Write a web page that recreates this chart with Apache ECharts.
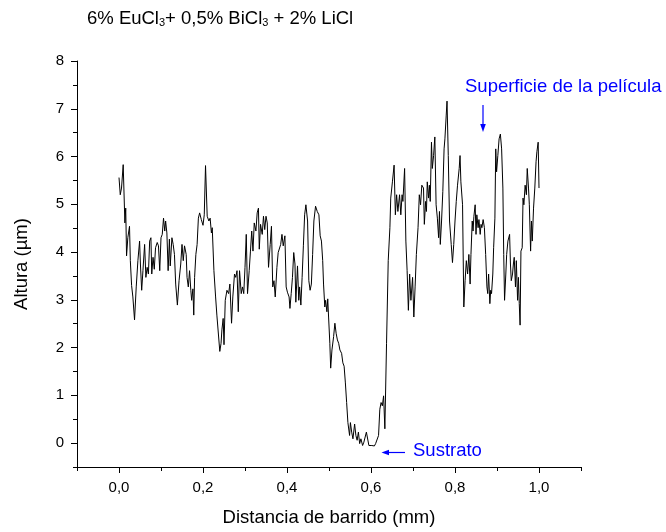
<!DOCTYPE html>
<html>
<head>
<meta charset="utf-8">
<script src="https://cdn.jsdelivr.net/npm/echarts@6/dist/echarts.min.js"></script>
<style>html,body{margin:0;padding:0;background:#fff}#chart{width:666px;height:532px}</style>
</head>
<body>
<div id="chart"></div>
<script>
// Scan distance (mm)
var distanceMm = [
0.000,0.003,0.006,0.010,0.014,0.016,0.018,0.021,0.025,0.027,
0.030,0.033,0.037,0.041,0.045,0.049,0.051,0.054,0.057,0.061,
0.064,0.067,0.070,0.073,0.076,0.078,0.081,0.084,0.087,0.091,
0.094,0.097,0.100,0.103,0.106,0.109,0.111,0.114,0.117,0.120,
0.122,0.126,0.129,0.132,0.135,0.139,0.143,0.147,0.150,0.153,
0.156,0.160,0.162,0.165,0.168,0.171,0.173,0.176,0.178,0.180,
0.183,0.186,0.189,0.192,0.196,0.200,0.203,0.206,0.210,0.214,
0.217,0.220,0.222,0.226,0.230,0.233,0.237,0.240,0.243,0.245,
0.248,0.250,0.253,0.257,0.261,0.264,0.268,0.271,0.275,0.278,
0.281,0.284,0.287,0.291,0.294,0.297,0.300,0.303,0.306,0.310,
0.313,0.316,0.319,0.322,0.326,0.329,0.332,0.334,0.337,0.341,
0.344,0.347,0.350,0.353,0.356,0.360,0.363,0.366,0.369,0.372,
0.376,0.379,0.382,0.385,0.388,0.391,0.395,0.398,0.401,0.405,
0.407,0.410,0.413,0.416,0.419,0.421,0.425,0.428,0.430,0.433,
0.436,0.439,0.442,0.445,0.449,0.452,0.455,0.458,0.461,0.464,
0.468,0.472,0.476,0.479,0.482,0.485,0.487,0.490,0.492,0.495,
0.497,0.499,0.502,0.504,0.507,0.511,0.514,0.517,0.520,0.523,
0.526,0.530,0.533,0.536,0.539,0.542,0.545,0.549,0.551,0.554,
0.557,0.561,0.564,0.567,0.570,0.573,0.576,0.580,0.583,0.586,
0.589,0.592,0.595,0.599,0.602,0.605,0.608,0.611,0.614,0.618,
0.621,0.624,0.627,0.630,0.633,0.637,0.641,0.645,0.647,0.651,
0.655,0.658,0.661,0.664,0.668,0.671,0.674,0.676,0.680,0.683,
0.686,0.689,0.692,0.695,0.699,0.702,0.705,0.708,0.712,0.715,
0.718,0.721,0.725,0.727,0.730,0.732,0.734,0.737,0.739,0.741,
0.744,0.746,0.749,0.752,0.755,0.758,0.761,0.763,0.765,0.768,
0.771,0.774,0.776,0.779,0.781,0.784,0.787,0.791,0.794,0.797,
0.800,0.803,0.806,0.810,0.812,0.814,0.818,0.821,0.824,0.827,
0.830,0.833,0.836,0.838,0.841,0.843,0.845,0.848,0.850,0.852,
0.855,0.857,0.860,0.862,0.864,0.867,0.870,0.873,0.876,0.878,
0.880,0.883,0.885,0.887,0.890,0.892,0.895,0.897,0.899,0.902,
0.905,0.908,0.911,0.914,0.916,0.918,0.921,0.923,0.926,0.930,
0.932,0.934,0.937,0.939,0.941,0.944,0.946,0.949,0.951,0.953,
0.955,0.957,0.960,0.962,0.964,0.967,0.970,0.972,0.975,0.977,
0.980,0.982,0.984,0.987,0.990,0.993,0.995,0.998,1.000
];
// Height (µm)
var heightUm = [
5.56,5.20,5.34,5.83,4.61,4.92,3.92,4.30,4.54,3.82,
3.30,3.06,2.58,3.27,3.82,4.23,3.75,3.20,3.61,4.16,
3.47,3.68,3.54,4.23,4.30,3.54,3.89,3.64,4.09,4.20,
4.13,3.61,4.30,4.37,4.71,4.44,4.65,4.40,3.61,4.27,
3.71,4.30,4.16,3.95,3.33,2.89,3.40,3.75,4.16,3.82,
4.13,3.95,3.47,3.27,3.61,3.20,2.99,3.23,2.68,3.47,
3.95,4.16,4.71,4.82,4.68,4.56,4.78,5.81,4.75,4.65,
4.71,4.40,4.51,3.61,3.06,2.68,2.71,1.92,2.09,2.37,
2.61,2.06,2.99,3.20,3.13,3.33,2.51,3.06,3.54,3.47,
3.61,2.75,3.61,3.13,3.27,3.13,3.68,4.37,3.13,3.61,
4.02,4.44,4.02,4.61,4.44,4.82,4.92,4.06,4.58,4.37,
4.75,4.47,4.75,4.61,3.68,4.16,4.54,3.27,3.40,3.06,
3.68,3.99,3.95,4.16,4.37,4.13,4.34,3.27,3.16,3.06,
2.82,3.13,3.47,3.99,3.75,2.95,3.71,2.99,3.27,2.89,
3.47,4.13,4.78,4.99,4.65,3.40,3.20,3.33,3.95,4.65,
4.96,4.85,4.78,4.34,4.23,3.82,3.33,2.85,2.99,2.75,
3.02,2.64,2.09,1.57,1.95,2.23,2.51,2.30,2.16,2.09,
1.95,1.88,1.68,1.61,1.26,0.85,0.43,0.16,0.43,0.23,
0.09,0.40,0.16,0.06,0.23,-0.01,0.09,-0.05,0.02,-0.01,
0.23,0.26,-0.05,-0.01,-0.05,-0.03,-0.06,-0.01,0.02,0.16,
0.71,0.85,0.78,0.99,0.30,2.09,3.82,4.51,5.13,5.47,
5.82,4.78,5.20,4.85,5.20,4.78,5.20,5.06,5.75,4.23,
3.61,2.78,3.54,2.99,3.47,2.64,3.27,3.95,4.51,5.20,
4.99,5.40,5.34,4.58,5.06,4.85,5.47,5.13,5.40,5.06,
6.30,5.75,6.02,6.41,4.99,4.71,4.30,4.85,4.16,4.65,
5.27,6.16,6.37,6.85,7.16,6.02,4.65,4.16,3.78,4.16,
4.65,5.06,5.40,5.75,6.02,5.47,4.99,2.85,3.40,3.82,
3.54,3.95,3.33,3.95,4.65,4.44,4.75,4.99,4.37,4.78,
4.51,4.68,4.37,4.58,4.51,4.68,4.51,3.95,3.27,3.13,
3.54,2.92,3.20,3.13,3.54,4.09,4.71,6.16,5.68,6.02,
6.37,6.47,6.16,5.34,3.95,2.99,3.54,3.95,4.23,4.37,
3.75,3.40,3.54,3.75,3.89,3.27,3.82,2.99,3.47,2.92,
2.47,4.02,4.09,5.13,4.99,5.40,5.20,5.75,5.34,4.99,
4.02,4.65,4.23,4.92,5.34,5.89,6.10,6.30,5.34
];
// Tick labels / tick positions
var xMajorTicks = [0, 0.2, 0.4, 0.6, 0.8, 1.0];
var xMinorTicks = [-0.1, 0.1, 0.3, 0.5, 0.7, 0.9, 1.1];
var yMajorTicks = [0, 1, 2, 3, 4, 5, 6, 7, 8];
var yMinorTicks = [-0.5, 0.5, 1.5, 2.5, 3.5, 4.5, 5.5, 6.5, 7.5];

var titleText = '{n|6% EuCl}{s|3}{n|+ 0,5% BiCl}{s|3}{n| + 2% LiCl}';
var xName = 'Distancia de barrido (mm)';
var yName = 'Altura (\u00b5m)';
var noteSurface = 'Superficie de la película';
var noteSubstrate = 'Sustrato';

var FONT = '"Liberation Sans", Arial, sans-serif';
var BLUE = '#0000ff';

var chart = echarts.init(document.getElementById('chart'), null, {renderer: 'canvas'});
var pts = distanceMm.map(function (d, i) { return [d, heightUm[i]]; });

function axisCommon(extra) {
  var base = {
    type: 'value',
    axisLine: {show: true, onZero: false, lineStyle: {color: '#000', width: 1}},
    splitLine: {show: false}
  };
  for (var k in extra) base[k] = extra[k];
  return base;
}

chart.setOption({
  animation: false,
  backgroundColor: '#fff',
  title: {
    text: titleText,
    left: 87, top: 9, padding: 0,
    textStyle: {
      fontFamily: FONT, fontWeight: 'normal', color: '#000',
      rich: {
        n: {fontFamily: FONT, fontSize: 18.5, lineHeight: 19, verticalAlign: 'top', color: '#000'},
        s: {fontFamily: FONT, fontSize: 11, lineHeight: 11, padding: [18, 0, 0, 0], verticalAlign: 'bottom', color: '#000'}
      }
    }
  },
  grid: {left: 77, right: 85, top: 61, bottom: 60, containLabel: false},
  xAxis: [
    axisCommon({
      min: -0.1, max: 1.1, position: 'bottom',
      name: xName, nameLocation: 'middle', nameGap: 41,
      nameTextStyle: {fontFamily: FONT, fontSize: 18.5, color: '#000'},
      axisTick: {show: true, inside: false, length: 6, lineStyle: {color: '#000'}, customValues: xMajorTicks},
      axisLabel: {show: true, margin: 13, fontFamily: FONT, fontSize: 15, color: '#000', customValues: xMajorTicks,
        formatter: function (v) { return Number(v).toFixed(1).replace('.', ','); }}
    }),
    axisCommon({
      min: -0.1, max: 1.1, position: 'bottom', offset: 0,
      axisLine: {show: false, onZero: false},
      axisTick: {show: true, inside: false, length: 4, lineStyle: {color: '#000'}, customValues: xMinorTicks},
      axisLabel: {show: false}
    })
  ],
  yAxis: [
    axisCommon({
      min: -0.5, max: 8, position: 'left',
      name: yName, nameLocation: 'middle', nameGap: 46,
      nameTextStyle: {fontFamily: FONT, fontSize: 18.5, color: '#000'},
      axisTick: {show: true, inside: false, length: 6, lineStyle: {color: '#000'}, customValues: yMajorTicks},
      axisLabel: {show: true, margin: 13, fontFamily: FONT, fontSize: 15, color: '#000', customValues: yMajorTicks,
        formatter: function (v) { return String(Math.round(v)); }}
    }),
    axisCommon({
      min: -0.5, max: 8, position: 'left', offset: 0,
      axisLine: {show: false, onZero: false},
      axisTick: {show: true, inside: false, length: 4, lineStyle: {color: '#000'}, customValues: yMinorTicks},
      axisLabel: {show: false}
    })
  ],
  series: [{
    type: 'line',
    xAxisIndex: 0, yAxisIndex: 0,
    data: pts,
    showSymbol: false,
    symbol: 'none',
    lineStyle: {color: '#000', width: 1},
    clip: false
  }],
  graphic: [
    {type: 'text', x: 465, y: 87, style: {text: noteSurface, font: '18.5px ' + FONT, fill: BLUE, textAlign: 'left', textVerticalAlign: 'middle', align: 'left', verticalAlign: 'middle'}},
    {type: 'line', shape: {x1: 483, y1: 105, x2: 483, y2: 126}, style: {stroke: BLUE, lineWidth: 1.2}},
    {type: 'polygon', shape: {points: [[480.2, 124], [485.8, 124], [483, 132]]}, style: {fill: BLUE}},
    {type: 'text', x: 413, y: 451, style: {text: noteSubstrate, font: '18.5px ' + FONT, fill: BLUE, textAlign: 'left', textVerticalAlign: 'middle', align: 'left', verticalAlign: 'middle'}},
    {type: 'line', shape: {x1: 405, y1: 452.5, x2: 387, y2: 452.5}, style: {stroke: BLUE, lineWidth: 1.2}},
    {type: 'polygon', shape: {points: [[389, 449.7], [389, 455.3], [381.5, 452.5]]}, style: {fill: BLUE}}
  ]
});
</script>
</body>
</html>
